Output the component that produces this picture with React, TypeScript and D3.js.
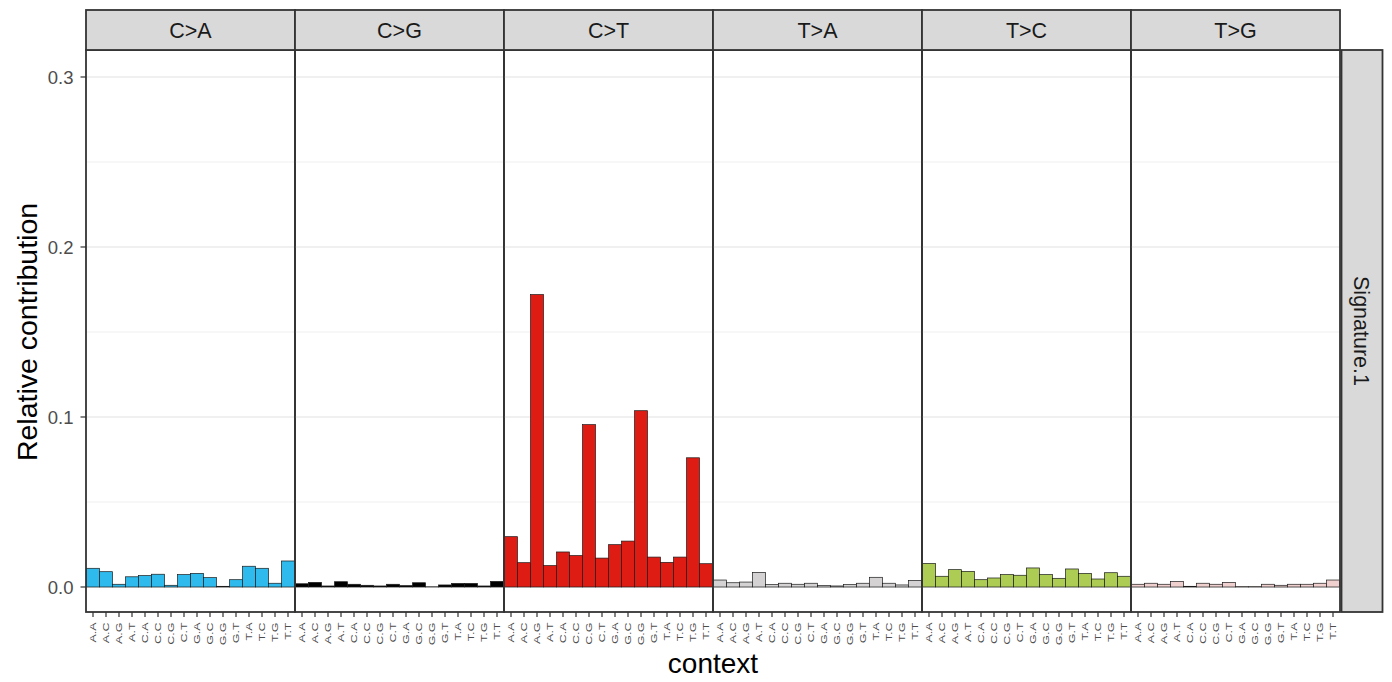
import React from "react";
import * as d3 from "d3";

const substitutions = ["C>A", "C>G", "C>T", "T>A", "T>C", "T>G"];
const contexts = ["A.A", "A.C", "A.G", "A.T", "C.A", "C.C", "C.G", "C.T", "G.A", "G.C", "G.G", "G.T", "T.A", "T.C", "T.G", "T.T"];
const colors = ["#2EBAED", "#000000", "#DE1C14", "#D4D2D2", "#ADCC54", "#F0D0CE"];

const valCA = [0.011, 0.009, 0.0016, 0.006, 0.0067, 0.0075, 0.001, 0.0073, 0.008, 0.0055, 0.0004, 0.0043, 0.0122, 0.011, 0.0022, 0.0153];
const valCG = [0.0019, 0.0027, 0.0006, 0.0031, 0.0016, 0.001, 0.0006, 0.0016, 0.0008, 0.0025, 0.0001, 0.0012, 0.0021, 0.0021, 0.0006, 0.0033];
const valCT = [0.0296, 0.0143, 0.172, 0.0126, 0.0206, 0.0185, 0.0955, 0.017, 0.0249, 0.027, 0.1037, 0.0176, 0.0145, 0.0176, 0.076, 0.0137];
const valTA = [0.0041, 0.0025, 0.0029, 0.0086, 0.0014, 0.0022, 0.0016, 0.0022, 0.0008, 0.0006, 0.0014, 0.0022, 0.0057, 0.0022, 0.0012, 0.0039];
const valTC = [0.0139, 0.0063, 0.0102, 0.0092, 0.0043, 0.0053, 0.0073, 0.0069, 0.0112, 0.0073, 0.0051, 0.0106, 0.008, 0.0047, 0.0084, 0.0063];
const valTG = [0.0016, 0.0022, 0.0016, 0.0033, 0.0004, 0.0022, 0.0016, 0.0027, 0.0002, 0.0002, 0.0016, 0.001, 0.0016, 0.0016, 0.0022, 0.0041];
const seriesValues = [valCA, valCG, valCT, valTA, valTC, valTG];

const yMajor = [0, 0.1, 0.2, 0.3];
const yMinor = [0.05, 0.15, 0.25];
const signatureLabel = "Signature.1";

const W = 1392;
const H = 682;
const plotLeft = 86;
const plotRight = 1340;
const panelTop = 50;
const panelBottom = 612;
const stripTop = 10;
const font = "'Liberation Sans', Arial, Helvetica, sans-serif";

export default function App() {
  const y = d3.scaleLinear().domain([-0.01471, 0.31588]).range([panelBottom, panelTop]);
  const panelX = d3.scaleBand<string>().domain(substitutions).range([plotLeft, plotRight]).padding(0);
  const pw = panelX.bandwidth();

  return (
    <svg width={W} height={H} style={{ position: "absolute", left: 0, top: 0, background: "#fff" }} fontFamily={font}>
      <rect x={0} y={0} width={W} height={H} fill="#fff" />
      {substitutions.map((sub, pi) => {
        const x0 = panelX(sub)!;
        const bx = d3.scaleBand<string>().domain(contexts).range([x0 + 0.5, x0 + pw - 0.5]).padding(0);
        const vals = seriesValues[pi];
        return (
          <g key={sub}>
            {yMinor.map((v) => (
              <line key={"mi" + v} x1={x0} x2={x0 + pw} y1={y(v)} y2={y(v)} stroke="#EBEBEB" strokeWidth={0.8} />
            ))}
            {yMajor.map((v) => (
              <line key={"ma" + v} x1={x0} x2={x0 + pw} y1={y(v)} y2={y(v)} stroke="#EBEBEB" strokeWidth={1.5} />
            ))}
            {contexts.map((c, i) => (
              <rect
                key={c}
                x={bx(c)!}
                width={bx.bandwidth()}
                y={y(vals[i])}
                height={y(0) - y(vals[i])}
                fill={colors[pi]}
                stroke="#1A1A1A"
                strokeWidth={0.7}
              />
            ))}
            <rect x={x0} y={panelTop} width={pw} height={panelBottom - panelTop} fill="none" stroke="#333333" strokeWidth={1.8} />
            <rect x={x0} y={stripTop} width={pw} height={panelTop - stripTop} fill="#D9D9D9" stroke="#333333" strokeWidth={1.8} />
            <text x={x0 + pw / 2} y={(stripTop + panelTop) / 2} dy="0.36em" textAnchor="middle" fontSize={21.5} fill="#1A1A1A">
              {sub}
            </text>
            {contexts.map((c) => {
              const cx = bx(c)! + bx.bandwidth() / 2;
              return (
                <g key={"t" + c}>
                  <line x1={cx} x2={cx} y1={panelBottom} y2={panelBottom + 5} stroke="#333333" strokeWidth={1.2} />
                  <text
                    transform={`translate(${cx},${panelBottom + 10.5}) rotate(-90) scale(1.45,1)`}
                    textAnchor="end"
                    dy="0.36em"
                    fontSize={8.6}
                    fill="#4D4D4D"
                  >
                    {c}
                  </text>
                </g>
              );
            })}
          </g>
        );
      })}
      <rect x={plotRight + 1.5} y={panelTop} width={41} height={panelBottom - panelTop} fill="#D9D9D9" stroke="#333333" strokeWidth={1.8} />
      <text
        transform={`translate(${plotRight + 1.5 + 20.5},${(panelTop + panelBottom) / 2}) rotate(90)`}
        textAnchor="middle"
        dy="0.36em"
        fontSize={21.5}
        fill="#1A1A1A"
      >
        {signatureLabel}
      </text>
      {yMajor.map((v) => (
        <g key={"y" + v}>
          <line x1={plotLeft - 5.5} x2={plotLeft} y1={y(v)} y2={y(v)} stroke="#333333" strokeWidth={1.2} />
          <text x={plotLeft - 12.5} y={y(v)} dy="0.36em" textAnchor="end" fontSize={18.5} fill="#4D4D4D">
            {d3.format(".1f")(v)}
          </text>
        </g>
      ))}
      <text
        transform={`translate(37,${(panelTop + panelBottom) / 2 + 1}) rotate(-90)`}
        textAnchor="middle"
        fontSize={28.5}
        fill="#000"
      >
        Relative contribution
      </text>
      <text x={(plotLeft + plotRight) / 2} y={673} textAnchor="middle" fontSize={28} fill="#000">
        context
      </text>
    </svg>
  );
}
